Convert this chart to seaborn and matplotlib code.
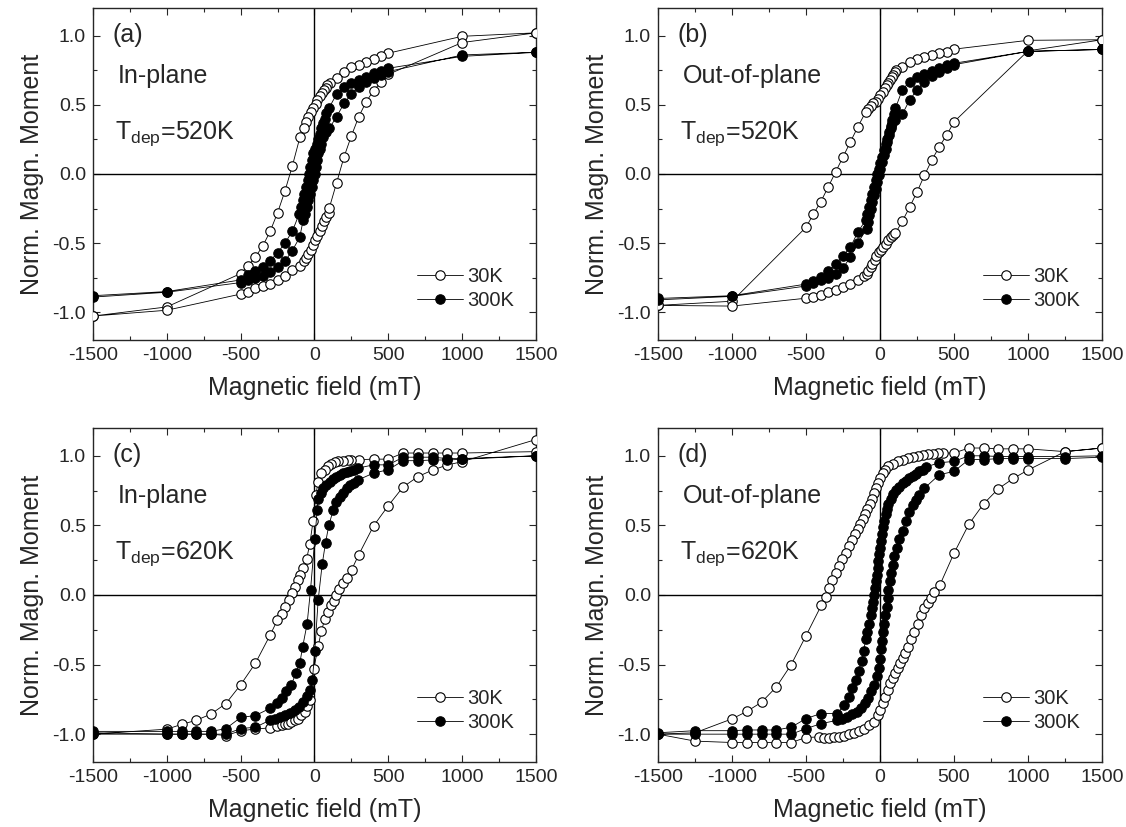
import matplotlib
matplotlib.use("Agg")
import matplotlib.pyplot as plt
from matplotlib.lines import Line2D
from matplotlib.ticker import MultipleLocator
import seaborn as sns

# ---- hysteresis loops: field in mT, normalised moment (descending branch, then ascending) ----
# (a) in-plane, Tdep = 520 K
field_a_30 = [1500, 1000, 500, 450, 400, 350, 300, 250, 200, 150, 105, 88, 77, 65, 52, 36, 20, 7, -9, -25,
              -41, -59, -74, -99, -150, -200, -250, -300, -350, -400, -450, -500, -1000, -1500,
              -1500, -1000, -500, -450, -400, -350, -300, -250, -200, -150, -100, -72, -59, -43, -27, -9, 5, 20, 36, 52,
              65, 81, 95, 100, 150, 200, 250, 300, 350, 400, 450, 500, 1000, 1500]
moment_a_30 = [1.02, 0.995, 0.873, 0.854, 0.83, 0.806, 0.789, 0.77, 0.735, 0.697, 0.66, 0.643, 0.624, 0.607, 0.588, 0.564, 0.535, 0.506, 0.474, 0.445,
               0.414, 0.377, 0.334, 0.264, 0.058, -0.123, -0.28, -0.414, -0.52, -0.6, -0.663, -0.72, -0.961, -1.027,
               -1.027, -0.985, -0.868, -0.85, -0.827, -0.81, -0.796, -0.77, -0.738, -0.694, -0.663, -0.63, -0.607, -0.578, -0.549, -0.513, -0.48, -0.445, -0.409, -0.377,
               -0.343, -0.312, -0.28, -0.247, -0.063, 0.123, 0.276, 0.414, 0.522, 0.602, 0.663, 0.72, 0.95, 1.02]
field_a_300 = [1500, 1000, 500, 450, 400, 350, 300, 250, 200, 150, 97, 81, 70, 59, 47, 36, 25, 14, 2, -9,
               -20, -32, -38, -47, -59, -70, -81, -93, -104, -150, -200, -250, -300, -350, -400, -450, -500, -1000, -1500,
               -1500, -1000, -500, -450, -400, -350, -300, -250, -200, -150, -100, -77, -65, -54, -43, -32, -20, -9, 2, 9,
               18, 27, 36, 47, 59, 81, 100, 150, 200, 250, 300, 350, 400, 450, 500, 1000, 1500]
moment_a_300 = [0.879, 0.85, 0.764, 0.747, 0.728, 0.704, 0.68, 0.655, 0.631, 0.578, 0.474, 0.438, 0.4, 0.365, 0.33, 0.29, 0.256, 0.22, 0.184, 0.148,
                0.1, 0.05, 0.0, -0.046, -0.094, -0.143, -0.19, -0.24, -0.29, -0.414, -0.5, -0.57, -0.627, -0.67, -0.7, -0.728, -0.766, -0.85, -0.88,
                -0.89, -0.855, -0.785, -0.77, -0.755, -0.735, -0.71, -0.675, -0.63, -0.554, -0.457, -0.336, -0.288, -0.24, -0.19, -0.143, -0.094, -0.046, 0.0, 0.05,
                0.1, 0.148, 0.184, 0.22, 0.27, 0.305, 0.33, 0.414, 0.51, 0.578, 0.631, 0.668, 0.692, 0.716, 0.74, 0.86, 0.88]

# (b) out-of-plane, Tdep = 520 K
field_b_30 = [1500, 1000, 500, 450, 400, 350, 300, 250, 200, 150, 109, 100, 89, 78, 67, 56, 44, 33, 17, 3,
              -15, -30, -46, -64, -82, -96, -150, -200, -250, -300, -350, -400, -450, -500, -1000, -1500,
              -1500, -1000, -500, -450, -400, -350, -300, -250, -200, -150, -105, -91, -78, -64, -51, -37, -24, -10, 8, 21,
              37, 53, 71, 89, 103, 150, 200, 250, 300, 350, 400, 450, 500, 1000, 1500]
moment_b_30 = [0.97, 0.966, 0.902, 0.885, 0.873, 0.861, 0.842, 0.83, 0.808, 0.776, 0.752, 0.735, 0.716, 0.7, 0.68, 0.66, 0.64, 0.62, 0.595, 0.571,
               0.54, 0.52, 0.51, 0.49, 0.467, 0.45, 0.34, 0.232, 0.123, 0.015, -0.094, -0.2, -0.29, -0.385, -0.92, -0.95,
               -0.95, -0.955, -0.898, -0.888, -0.876, -0.856, -0.84, -0.82, -0.796, -0.767, -0.735, -0.723, -0.7, -0.675, -0.65, -0.62, -0.59, -0.566, -0.55, -0.53,
               -0.505, -0.48, -0.457, -0.438, -0.43, -0.343, -0.24, -0.13, -0.01, 0.1, 0.196, 0.28, 0.377, 0.89, 0.97]
field_b_300 = [1500, 1000, 500, 450, 400, 350, 300, 250, 200, 150, 104, 93, 82, 71, 60, 48, 37, 26, 15, 3,
               -8, -19, -30, -42, -53, -64, -75, -87, -98, -150, -200, -250, -300, -350, -400, -450, -500, -1000, -1500,
               -1500, -1000, -500, -450, -400, -350, -300, -250, -200, -150, -91, -82, -73, -64, -53, -42, -30, -19, -8, 3,
               15, 26, 37, 48, 60, 71, 82, 100, 150, 200, 250, 300, 350, 400, 450, 500, 1000, 1500]
moment_b_300 = [0.9, 0.886, 0.8, 0.784, 0.764, 0.747, 0.723, 0.7, 0.668, 0.607, 0.474, 0.437, 0.39, 0.346, 0.305, 0.256, 0.215, 0.172, 0.123, 0.08,
                0.039, 0.0, -0.046, -0.094, -0.143, -0.19, -0.24, -0.29, -0.336, -0.42, -0.53, -0.59, -0.65, -0.704, -0.743, -0.772, -0.796, -0.88, -0.9,
                -0.91, -0.885, -0.81, -0.79, -0.77, -0.75, -0.72, -0.68, -0.6, -0.5, -0.397, -0.348, -0.3, -0.25, -0.2, -0.155, -0.106, -0.058, -0.01, 0.039,
                0.087, 0.135, 0.184, 0.232, 0.28, 0.33, 0.365, 0.39, 0.43, 0.535, 0.607, 0.668, 0.709, 0.74, 0.764, 0.79, 0.886, 0.9]

# (c) in-plane, Tdep = 620 K
field_c_30 = [1500, 1000, 900, 800, 700, 600, 500, 400, 300, 250, 228, 194, 160, 138, 115, 93, 70, 47, 25, 9,
              -9, -32, -54, -77, -95, -111, -133, -151, -174, -201, -223, -251, -300, -400, -500, -600, -700, -800, -900, -1000, -1500,
              -1500, -1000, -900, -800, -700, -600, -500, -400, -300, -251, -223, -201, -178, -156, -133, -111, -88, -65, -50, -32,
              -5, 25, 47, 70, 93, 115, 131, 149, 167, 190, 217, 251, 300, 400, 500, 600, 700, 800, 900, 1000, 1500]
moment_c_30 = [1.03, 1.02, 1.02, 1.02, 1.02, 1.02, 0.976, 0.976, 0.972, 0.97, 0.968, 0.965, 0.96, 0.954, 0.944, 0.925, 0.9, 0.876, 0.815, 0.718,
               0.535, 0.365, 0.255, 0.195, 0.146, 0.11, 0.06, 0.012, -0.036, -0.085, -0.134, -0.18, -0.287, -0.49, -0.645, -0.78, -0.855, -0.9, -0.93, -0.964, -1.0,
               -0.99, -1.0, -1.0, -1.0, -1.0, -1.01, -0.976, -0.963, -0.955, -0.944, -0.937, -0.93, -0.925, -0.912, -0.9, -0.888, -0.864, -0.84, -0.8, -0.754,
               -0.535, -0.365, -0.26, -0.17, -0.124, -0.075, -0.04, 0.0, 0.046, 0.083, 0.12, 0.18, 0.29, 0.496, 0.642, 0.776, 0.85, 0.898, 0.934, 0.958, 1.117]
field_c_300 = [1500, 1000, 900, 800, 700, 600, 500, 400, 296, 266, 239, 217, 194, 172, 149, 126, 104, 81, 59, 41,
               25, 18, 2, -27, -50, -81, -99, -126, -156, -190, -223, -257, -302, -400, -500, -600, -700, -800, -900, -1000, -1500,
               -1500, -1000, -900, -800, -700, -600, -500, -400, -302, -269, -235, -201, -167, -133, -104, -77, -54, -32, -14, 2,
               25, 52, 75, 97, 126, 149, 172, 194, 217, 239, 266, 296, 400, 500, 600, 700, 800, 900, 1000, 1500]
moment_c_300 = [1.0, 0.98, 0.98, 0.99, 0.99, 0.99, 0.935, 0.935, 0.912, 0.9, 0.893, 0.883, 0.876, 0.864, 0.85, 0.832, 0.815, 0.79, 0.766, 0.73,
                0.693, 0.608, 0.4, 0.036, -0.207, -0.377, -0.487, -0.56, -0.645, -0.693, -0.742, -0.779, -0.815, -0.866, -0.88, -0.96, -0.98, -0.98, -0.98, -0.98, -0.98,
                -1.0, -1.0, -1.0, -1.0, -1.0, -1.0, -0.96, -0.95, -0.9, -0.888, -0.876, -0.864, -0.847, -0.827, -0.803, -0.766, -0.725, -0.68, -0.608, -0.4,
                -0.036, 0.22, 0.377, 0.5, 0.608, 0.67, 0.706, 0.735, 0.766, 0.79, 0.808, 0.827, 0.876, 0.9, 0.965, 0.965, 0.97, 0.97, 0.975, 1.0]

# (d) out-of-plane, Tdep = 620 K
field_d_30 = [1500, 1250, 1000, 900, 800, 700, 600, 500, 423, 389, 355, 322, 288, 254, 220, 186, 152, 119, 85, 57,
              35, 17, 1, -12, -28, -40, -55, -69, -85, -103, -118, -134, -152, -170, -190, -209, -231, -254, -276, -299,
              -322, -344, -367, -396, -500, -600, -700, -800, -900, -1000, -1250, -1500,
              -1500, -1250, -1000, -900, -800, -700, -600, -500, -412, -378, -344, -310, -276, -243, -209, -175, -141, -107, -73, -40,
              -12, 1, 17, 33, 51, 69, 85, 101, 119, 137, 152, 169, 186, 209, 231, 254, 277, 299, 322, 344,
              367, 405, 500, 600, 700, 800, 900, 1000, 1250, 1500]
moment_d_30 = [1.056, 1.03, 1.05, 1.05, 1.05, 1.056, 1.056, 1.02, 1.02, 1.017, 1.015, 1.01, 1.005, 0.998, 0.993, 0.985, 0.973, 0.961, 0.944, 0.925,
               0.9, 0.876, 0.84, 0.803, 0.766, 0.73, 0.693, 0.657, 0.62, 0.584, 0.547, 0.511, 0.474, 0.438, 0.397, 0.353, 0.304, 0.255, 0.207, 0.158,
               0.11, 0.049, -0.012, -0.073, -0.292, -0.5, -0.66, -0.77, -0.837, -0.89, -0.99, -1.0,
               -1.0, -1.05, -1.06, -1.06, -1.06, -1.06, -1.06, -1.024, -1.02, -1.024, -1.027, -1.02, -1.017, -1.01, -1.0, -0.993, -0.978, -0.96, -0.937, -0.912,
               -0.864, -0.827, -0.779, -0.73, -0.68, -0.633, -0.596, -0.56, -0.523, -0.487, -0.45, -0.414, -0.377, -0.316, -0.268, -0.207, -0.146, -0.097, -0.061, -0.024,
               0.024, 0.073, 0.3, 0.508, 0.655, 0.764, 0.837, 0.898, 1.03, 1.056]
field_d_300 = [1500, 1250, 1000, 900, 800, 700, 600, 500, 400, 310, 288, 265, 243, 220, 198, 175, 152, 130, 107, 89,
               73, 57, 46, 37, 28, 21, 12, 6, -1, -6, -12, -17, -21, -28, -35, -40, -46, -53, -62, -73,
               -85, -96, -111, -125, -145, -163, -186, -209, -243, -288, -400, -500, -600, -700, -800, -900, -1000, -1250, -1500,
               -1500, -1250, -1000, -900, -800, -700, -600, -500, -400, -288, -254, -220, -186, -157, -130, -103, -80, -58, -40, -21,
               -10, -1, 6, 12, 21, 28, 35, 44, 51, 57, 67, 73, 85, 96, 112, 130, 152, 175, 198, 220,
               243, 265, 299, 400, 500, 600, 700, 800, 900, 1000, 1250, 1500]
moment_d_300 = [1.0, 0.995, 0.995, 0.995, 0.995, 1.0, 1.0, 0.96, 0.95, 0.92, 0.9, 0.888, 0.87, 0.856, 0.84, 0.822, 0.803, 0.779, 0.754, 0.725,
                0.693, 0.657, 0.62, 0.584, 0.535, 0.487, 0.438, 0.39, 0.34, 0.292, 0.243, 0.195, 0.146, 0.097, 0.049, 0.0, -0.049, -0.097, -0.146, -0.207,
                -0.268, -0.316, -0.4, -0.474, -0.547, -0.608, -0.669, -0.73, -0.79, -0.852, -0.852, -0.888, -0.95, -0.97, -0.97, -0.97, -0.975, -0.975, -0.99,
                -1.0, -1.0, -1.0, -1.0, -1.0, -1.0, -1.0, -0.96, -0.925, -0.9, -0.888, -0.876, -0.856, -0.84, -0.815, -0.779, -0.742, -0.693, -0.645, -0.584,
                -0.523, -0.462, -0.389, -0.328, -0.268, -0.207, -0.146, -0.085, -0.024, 0.036, 0.097, 0.158, 0.219, 0.28, 0.34, 0.4, 0.462, 0.535, 0.596, 0.645,
                0.681, 0.718, 0.766, 0.864, 0.888, 0.973, 0.973, 0.98, 0.98, 0.98, 0.98, 0.99]

panel_tags = ["(a)", "(b)", "(c)", "(d)"]
orientations = ["In-plane", "Out-of-plane", "In-plane", "Out-of-plane"]
dep_temps = ["520K", "520K", "620K", "620K"]
temp_labels = ["30K", "300K"]
x_ticks = [-1500, -1000, -500, 0, 500, 1000, 1500]
y_ticks = [-1.0, -0.5, 0.0, 0.5, 1.0]

loops = [
    ((field_a_30, moment_a_30), (field_a_300, moment_a_300)),
    ((field_b_30, moment_b_30), (field_b_300, moment_b_300)),
    ((field_c_30, moment_c_30), (field_c_300, moment_c_300)),
    ((field_d_30, moment_d_30), (field_d_300, moment_d_300)),
]

sns.set_style("ticks")
plt.rcParams["font.family"] = ["Liberation Sans", "DejaVu Sans"]
plt.rcParams["mathtext.fontset"] = "custom"
plt.rcParams["mathtext.rm"] = "Liberation Sans"
plt.rcParams["mathtext.it"] = "Liberation Sans:italic"
plt.rcParams["axes.unicode_minus"] = False

fig = plt.figure(figsize=(11.26, 8.27), dpi=100)
boxes = [
    [0.0826, 0.5889, 0.3934, 0.4015],
    [0.5844, 0.5889, 0.3943, 0.4015],
    [0.0826, 0.0786, 0.3934, 0.4039],
    [0.5844, 0.0786, 0.3943, 0.4039],
]

face_colors = ["white", "black"]
line_kw = dict(color="black", lw=0.6, marker="o", markersize=6.8,
               markeredgecolor="black", markeredgewidth=0.8)

for i, box in enumerate(boxes):
    ax = fig.add_axes(box)
    ax.axhline(0, color="black", lw=1.0, zorder=1)
    ax.axvline(0, color="black", lw=1.0, zorder=1)
    for (h, m), fc in zip(loops[i], face_colors):
        sns.lineplot(x=h, y=m, sort=False, estimator=None, ax=ax,
                     markerfacecolor=fc, zorder=3, **line_kw)
    ax.set_xlim(-1500, 1500)
    ax.set_ylim(-1.2, 1.2)
    ax.set_xticks(x_ticks)
    ax.set_xticklabels([str(v) for v in x_ticks])
    ax.set_yticks(y_ticks)
    ax.set_yticklabels([f"{v:.1f}" for v in y_ticks])
    ax.xaxis.set_minor_locator(MultipleLocator(250))
    ax.yaxis.set_minor_locator(MultipleLocator(0.25))
    ax.tick_params(which="both", direction="in", top=True, right=True,
                   width=0.8, labelsize=14, pad=5)
    ax.tick_params(which="major", length=5)
    ax.tick_params(which="minor", length=3)
    for sp in ax.spines.values():
        sp.set_linewidth(1.0)
    ax.set_xlabel("Magnetic field (mT)", fontsize=18, labelpad=9)
    ax.set_ylabel("Norm. Magn. Moment", fontsize=18, labelpad=6)

    ax.text(0.043, 0.897, panel_tags[i], transform=ax.transAxes, fontsize=18, va="baseline")
    ax.text(0.055, 0.775, orientations[i], transform=ax.transAxes, fontsize=18, va="baseline")
    ax.text(0.05, 0.607, r"T$_{\mathrm{dep}}$=" + dep_temps[i], transform=ax.transAxes,
            fontsize=18, va="baseline")

    handles = [Line2D([], [], markerfacecolor=fc, **line_kw) for fc in face_colors]
    ax.legend(handles, temp_labels, loc="lower right", bbox_to_anchor=(0.95, 0.09),
              frameon=False, fontsize=14.5, handlelength=2.3, handletextpad=0.2,
              labelspacing=0.25, borderpad=0, borderaxespad=0)

fig.savefig("out.png", dpi=100)
